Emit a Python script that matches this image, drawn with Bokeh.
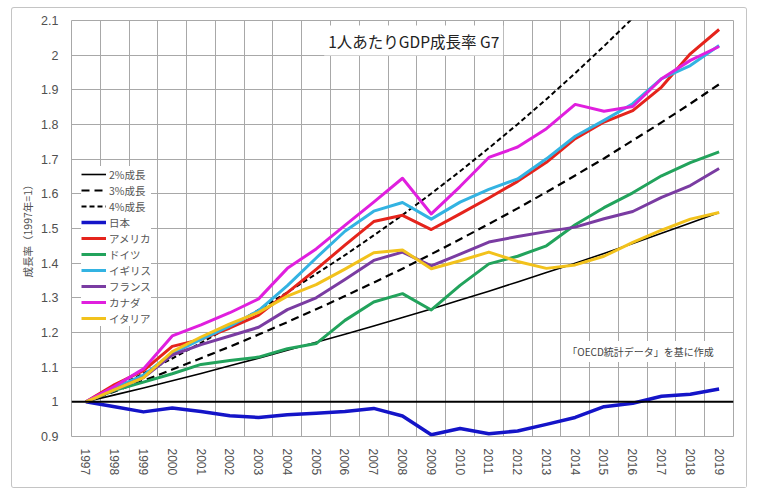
from bokeh.plotting import figure
from bokeh.models import (Range1d, FixedTicker, NumeralTickFormatter, Legend,
                          LegendItem, Label, Span)
from bokeh.embed import file_html
from bokeh.resources import INLINE

# ---- data: GDP per capita index (1997 = 1) ----
years = list(range(1997, 2020))

growth_2 = [1.000, 1.020, 1.040, 1.061, 1.082, 1.104, 1.126, 1.149, 1.172, 1.195, 1.219, 1.243,
            1.268, 1.294, 1.319, 1.346, 1.373, 1.400, 1.428, 1.457, 1.486, 1.516, 1.546]
growth_3 = [1.000, 1.030, 1.061, 1.093, 1.126, 1.159, 1.194, 1.230, 1.267, 1.305, 1.344, 1.384,
            1.426, 1.469, 1.513, 1.558, 1.605, 1.653, 1.702, 1.754, 1.806, 1.860, 1.916]
growth_4 = [1.000, 1.040, 1.082, 1.125, 1.170, 1.217, 1.265, 1.316, 1.369, 1.423, 1.480, 1.539,
            1.601, 1.665, 1.732, 1.801, 1.873, 1.948, 2.026, 2.107, 2.191, 2.279, 2.370]

japan = [1.000, 0.986, 0.971, 0.982, 0.972, 0.960, 0.955, 0.963, 0.967, 0.972, 0.981, 0.959,
         0.905, 0.923, 0.908, 0.916, 0.935, 0.955, 0.986, 0.996, 1.016, 1.022, 1.037]
usa = [1.000, 1.050, 1.090, 1.160, 1.180, 1.213, 1.250, 1.315, 1.382, 1.452, 1.520, 1.538,
       1.497, 1.542, 1.588, 1.636, 1.691, 1.759, 1.807, 1.840, 1.908, 2.004, 2.074]
germany = [1.000, 1.033, 1.057, 1.081, 1.108, 1.119, 1.129, 1.153, 1.168, 1.235, 1.288, 1.312,
           1.265, 1.336, 1.398, 1.420, 1.450, 1.511, 1.560, 1.603, 1.652, 1.690, 1.721]
uk = [1.000, 1.040, 1.077, 1.140, 1.180, 1.218, 1.263, 1.335, 1.415, 1.492, 1.550, 1.575,
      1.527, 1.576, 1.613, 1.643, 1.701, 1.766, 1.812, 1.860, 1.932, 1.970, 2.028]
france = [1.000, 1.035, 1.070, 1.135, 1.165, 1.190, 1.215, 1.266, 1.300, 1.353, 1.408, 1.432,
          1.392, 1.426, 1.461, 1.477, 1.491, 1.504, 1.528, 1.549, 1.590, 1.624, 1.673]
canada = [1.000, 1.045, 1.095, 1.190, 1.222, 1.257, 1.297, 1.385, 1.441, 1.509, 1.576, 1.645,
          1.542, 1.621, 1.705, 1.735, 1.788, 1.858, 1.838, 1.852, 1.932, 1.985, 2.025]
italy = [1.000, 1.035, 1.070, 1.145, 1.187, 1.225, 1.258, 1.305, 1.338, 1.383, 1.430, 1.438,
         1.384, 1.407, 1.432, 1.405, 1.385, 1.395, 1.420, 1.460, 1.495, 1.527, 1.546]

y_ticks = [0.9, 1.0, 1.1, 1.2, 1.3, 1.4, 1.5, 1.6, 1.7, 1.8, 1.9, 2.0, 2.1]

series = [
    ("2%成長", growth_2, "#000000", 1.6, "solid"),
    ("3%成長", growth_3, "#000000", 2.2, "8 5"),
    ("4%成長", growth_4, "#000000", 2.0, "5 3"),
    ("日本", japan, "#1414C8", 3.5, "solid"),
    ("アメリカ", usa, "#E5241C", 3.0, "solid"),
    ("ドイツ", germany, "#22A35C", 3.0, "solid"),
    ("イギリス", uk, "#33B3E2", 3.0, "solid"),
    ("フランス", france, "#7A3CA2", 3.0, "solid"),
    ("カナダ", canada, "#E01FDE", 3.0, "solid"),
    ("イタリア", italy, "#F2C21C", 3.0, "solid"),
]

JP_FONT = "Noto Sans CJK JP"
NUM_FONT = "Liberation Sans"
GRID = "#A8A8A8"

p = figure(width=734, height=479, output_backend="svg", toolbar_location=None,
           x_range=Range1d(1996.5, 2019.5), y_range=Range1d(0.9, 2.1),
           min_border_left=59, min_border_right=13, min_border_top=12, min_border_bottom=51,
           background_fill_color="white", border_fill_color="white")
p.margin = (8, 0, 0, 12)
p.styles = {"box-shadow": "0 0 0 1px #c4c4c4", "border-radius": "2px"}

p.outline_line_color = GRID
p.outline_line_width = 1

# grid: horizontal every 0.1, vertical between the yearly categories
p.ygrid.ticker = FixedTicker(ticks=y_ticks)
p.xgrid.ticker = FixedTicker(ticks=[y + 0.5 for y in years[:-1]])
for g in (p.xgrid, p.ygrid):
    g.grid_line_color = GRID
    g.grid_line_width = 1

# axes
p.yaxis.ticker = FixedTicker(ticks=y_ticks)
p.yaxis.formatter = NumeralTickFormatter(format="0.[0]")
p.yaxis.axis_line_color = None
p.yaxis.major_tick_line_color = None
p.yaxis.minor_tick_line_color = None
p.yaxis.major_label_standoff = 7
p.yaxis.major_label_text_font = NUM_FONT
p.yaxis.major_label_text_font_size = "12.5px"
p.yaxis.major_label_text_color = "#505050"
p.yaxis.axis_label = "成長率（1997年=1）"
p.yaxis.axis_label_text_font = JP_FONT
p.yaxis.axis_label_text_font_size = "10.5px"
p.yaxis.axis_label_text_font_style = "normal"
p.yaxis.axis_label_text_color = "#505050"
p.yaxis.axis_label_standoff = 3

p.xaxis.ticker = FixedTicker(ticks=years)
p.xaxis.axis_line_color = None
p.xaxis.major_tick_line_color = None
p.xaxis.minor_tick_line_color = None
p.xaxis.major_label_orientation = "vertical"
p.xaxis.major_label_standoff = 6
p.xaxis.major_label_text_font = NUM_FONT
p.xaxis.major_label_text_font_size = "12px"
p.xaxis.major_label_text_color = "#505050"

# horizontal axis crossing at 1
p.add_layout(Span(location=1.0, dimension="width", line_color="#000000", line_width=2))

items = []
for name, vals, color, lw, dash in series:
    r = p.line(years, vals, line_color=color, line_width=lw, line_dash=dash,
               line_join="round", line_cap="butt")
    items.append(LegendItem(label=name, renderers=[r]))

legend = Legend(items=items, location=(10, 110), orientation="vertical",
                background_fill_color="white", background_fill_alpha=1.0,
                border_line_color=None, padding=4, margin=0, spacing=0,
                glyph_width=25, glyph_height=16, label_height=16, label_standoff=3,
                label_text_font=JP_FONT, label_text_font_size="10.5px",
                label_text_color="#555555")
p.add_layout(legend)

title = Label(x=2008.39, y=2.042, text="1人あたりGDP成長率 G7",
              text_align="center", text_baseline="middle",
              text_font=JP_FONT, text_font_size="15.5px", text_color="#222222",
              background_fill_color="white", background_fill_alpha=1.0, padding=4)
p.add_layout(title)

note = Label(x=2016.27, y=1.145, text="「OECD統計データ」を基に作成",
             text_align="center", text_baseline="middle",
             text_font=JP_FONT, text_font_size="10px", text_color="#444444",
             background_fill_color="white", background_fill_alpha=1.0, padding=3)
p.add_layout(note)

open("out.html", "w").write(file_html(p, INLINE))
